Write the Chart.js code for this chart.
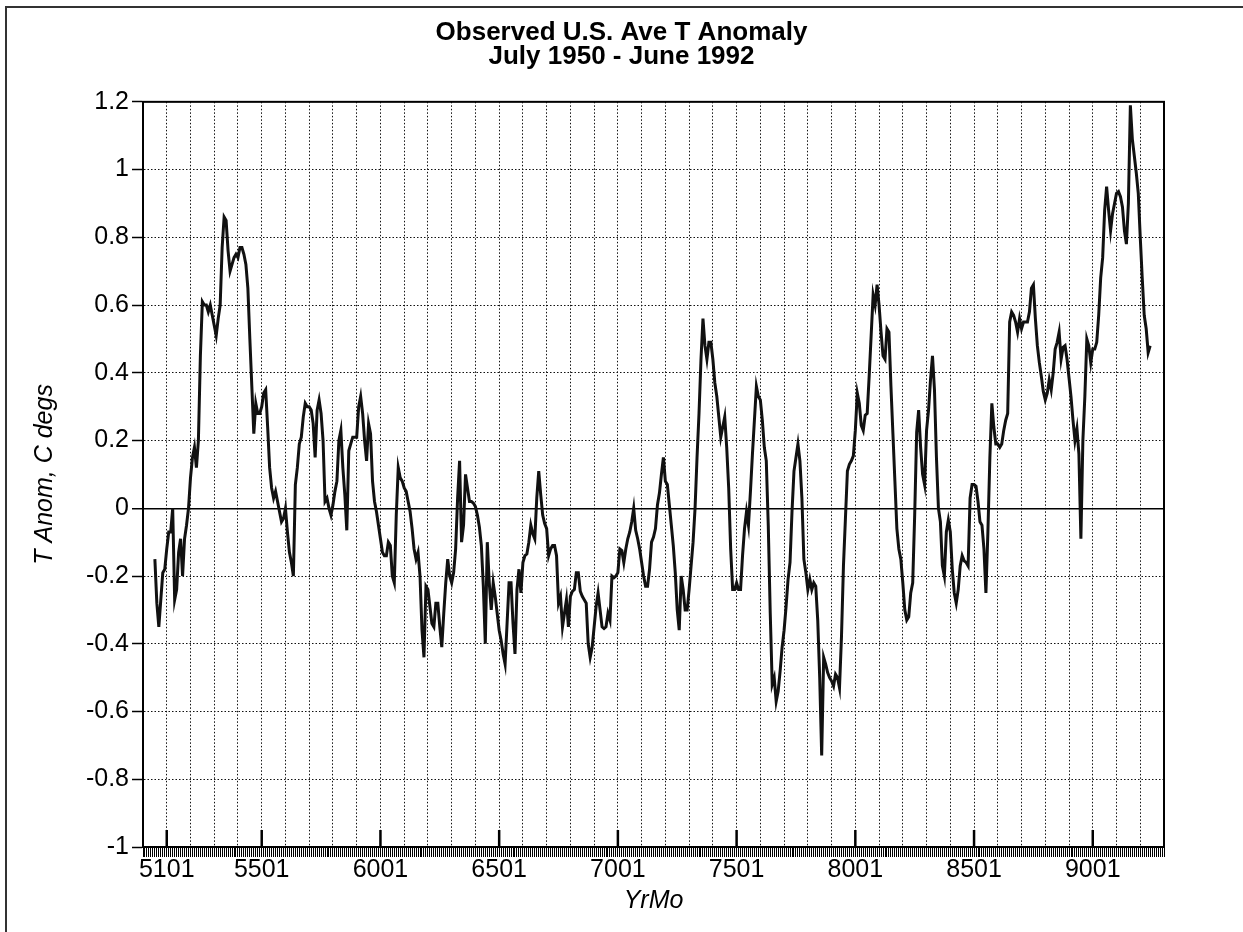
<!DOCTYPE html>
<html>
<head>
<meta charset="utf-8">
<title>Observed U.S. Ave T Anomaly</title>
<script src="https://cdn.jsdelivr.net/npm/chart.js@4.4.1/dist/chart.umd.min.js"></script>
<style>
  html, body { margin: 0; padding: 0; background: #fff; }
  #wrap { position: relative; width: 1243px; height: 932px; overflow: hidden; }
  #frame { position: absolute; left: 5px; top: 6px; width: 1300px; height: 1000px;
           border-top: 2px solid #333; border-left: 2px solid #333; pointer-events: none; }
</style>
</head>
<body>
<div id="wrap">
  <canvas id="chart" width="1243" height="932"></canvas>
  <div id="frame"></div>
</div>
<script>
// monthly anomaly (C), July 1950 .. June 1992
const anom50s = [
  -0.15, -0.28, -0.35, -0.27, -0.19, -0.18, -0.12, -0.07, -0.07, 0.0,
  -0.27, -0.24, -0.13, -0.09, -0.2, -0.09, -0.05, 0.0, 0.09, 0.15,
  0.18, 0.12, 0.2, 0.45, 0.61, 0.6, 0.6, 0.58, 0.6, 0.57,
  0.54, 0.51, 0.56, 0.6, 0.77, 0.86, 0.85, 0.76, 0.70, 0.72,
  0.74, 0.75, 0.74, 0.77, 0.77, 0.75, 0.72, 0.65, 0.50, 0.36,
  0.22, 0.31, 0.28, 0.28, 0.30, 0.34, 0.35, 0.24, 0.12, 0.06,
  0.03, 0.05, 0.02, -0.01, -0.04, -0.03, 0.0, -0.07, -0.13, -0.16,
  -0.2, 0.07, 0.12, 0.19, 0.21, 0.27, 0.31, 0.30, 0.30, 0.29,
  0.25, 0.15, 0.29, 0.32, 0.28, 0.2, 0.02, 0.03, 0.0, -0.02,
  0.01, 0.05, 0.08, 0.2, 0.23, 0.12, 0.04, -0.065, 0.17, 0.19,
  0.21, 0.21, 0.21, 0.30, 0.33, 0.28, 0.20, 0.14, 0.25, 0.22,
  0.08, 0.02, -0.01, -0.05
];
const anom60s = [
  -0.09, -0.13, -0.14, -0.14, -0.1, -0.11,
  -0.2, -0.22, -0.02, 0.12, 0.09, 0.08, 0.06, 0.05, 0.02, -0.01,
  -0.06, -0.12, -0.15, -0.13, -0.2, -0.36, -0.44, -0.23, -0.24, -0.29,
  -0.34, -0.35, -0.28, -0.28, -0.35, -0.41, -0.31, -0.22, -0.15, -0.2,
  -0.22, -0.19, -0.12, 0.03, 0.14, -0.1, -0.05, 0.1, 0.06, 0.02,
  0.02, 0.015, 0.005, -0.02, -0.055, -0.11, -0.23, -0.40, -0.10, -0.22,
  -0.3, -0.22, -0.26, -0.31, -0.36, -0.39, -0.43, -0.46, -0.34, -0.22,
  -0.22, -0.34, -0.43, -0.24, -0.18, -0.25, -0.16, -0.14, -0.135, -0.1,
  -0.05, -0.075, -0.09, 0.03, 0.11, 0.04, -0.02, -0.045, -0.06, -0.14,
  -0.12, -0.11, -0.11, -0.14, -0.28, -0.26, -0.35, -0.31, -0.27, -0.35,
  -0.26, -0.245, -0.24, -0.19, -0.19, -0.245, -0.26, -0.27, -0.28, -0.40,
  -0.44, -0.41, -0.35, -0.29, -0.25, -0.30, -0.35, -0.355, -0.35, -0.31,
  -0.33, -0.2, -0.205, -0.2
];
const anom70s = [
  -0.19, -0.12, -0.125, -0.16, -0.12, -0.09,
  -0.07, -0.04, 0.0, -0.065, -0.09, -0.12, -0.16, -0.2, -0.23, -0.23,
  -0.18, -0.1, -0.085, -0.06, 0.01, 0.045, 0.1, 0.15, 0.08, 0.07,
  0.01, -0.05, -0.11, -0.19, -0.3, -0.36, -0.2, -0.24, -0.3, -0.3,
  -0.24, -0.17, -0.1, 0.0, 0.15, 0.28, 0.44, 0.56, 0.48, 0.44,
  0.49, 0.49, 0.44, 0.37, 0.33, 0.27, 0.21, 0.24, 0.27, 0.18,
  0.06, -0.12, -0.24, -0.24, -0.22, -0.24, -0.24, -0.14, -0.06, -0.01,
  -0.05, 0.05, 0.16, 0.26, 0.36, 0.33, 0.32, 0.26, 0.18, 0.14,
  -0.05, -0.31, -0.52, -0.5, -0.57, -0.54, -0.48, -0.41, -0.36, -0.29,
  -0.21, -0.16, -0.01, 0.11, 0.15, 0.19, 0.14, 0.03, -0.15, -0.19,
  -0.24, -0.21, -0.24, -0.22, -0.23, -0.33, -0.5, -0.73, -0.44, -0.46,
  -0.485, -0.5, -0.51, -0.525, -0.49, -0.5, -0.53, -0.38, -0.17, -0.03,
  0.11, 0.13, 0.14, 0.155
];
const anom80s = [
  0.23, 0.34, 0.31, 0.245, 0.23, 0.275,
  0.28, 0.39, 0.51, 0.63, 0.6, 0.66, 0.6, 0.52, 0.45, 0.44,
  0.53, 0.52, 0.36, 0.22, 0.08, -0.06, -0.12, -0.15, -0.22, -0.3,
  -0.33, -0.32, -0.25, -0.22, -0.02, 0.225, 0.29, 0.18, 0.1, 0.07,
  0.23, 0.29, 0.38, 0.45, 0.35, 0.15, 0.0, -0.04, -0.17, -0.2,
  -0.07, -0.035, -0.07, -0.18, -0.25, -0.28, -0.24, -0.17, -0.14, -0.155,
  -0.16, -0.17, 0.03, 0.07, 0.07, 0.065, 0.02, -0.04, -0.05, -0.12,
  -0.25, -0.07, 0.15, 0.31, 0.24, 0.19, 0.19, 0.18, 0.19, 0.23,
  0.26, 0.28, 0.55, 0.58, 0.57, 0.55, 0.52, 0.56, 0.53, 0.55,
  0.55, 0.55, 0.58, 0.65, 0.66, 0.56, 0.48, 0.43, 0.39, 0.345,
  0.32, 0.34, 0.38, 0.35, 0.4, 0.47, 0.49, 0.52, 0.44, 0.475,
  0.48, 0.44, 0.385, 0.33, 0.26, 0.2, 0.235, 0.16, -0.09, 0.2,
  0.33, 0.5, 0.48, 0.43
];
const anom90s = [
  0.47, 0.47, 0.49, 0.57, 0.68, 0.74,
  0.88, 0.95, 0.88, 0.82, 0.87, 0.9, 0.93, 0.935, 0.92, 0.89,
  0.82, 0.78, 0.9, 1.19, 1.09, 1.04, 0.99, 0.93, 0.8, 0.68,
  0.57, 0.53, 0.46, 0.48
];

const tickLabels = ['5101', '5501', '6001', '6501', '7001', '7501', '8001', '8501', '9001'];
const yTicks = { min: -1, max: 1.2, step: 0.2 };
const axisStart = '5001';   // left edge of x axis
const axisEnd = '9301';     // right edge of x axis
const firstMonth = '5007';  // July 1950

const FONT = "'Liberation Sans', Arial, Helvetica, sans-serif";
const DOTS = [1.5, 2];

// month index counted from Jan 1950
function monthIndex(yrmo) {
  return (parseInt(yrmo.slice(0, 2), 10) - 50) * 12 + parseInt(yrmo.slice(2), 10) - 1;
}

const anomaly = anom50s.concat(anom60s, anom70s, anom80s, anom90s);
const start = monthIndex(firstMonth);
const points = anomaly.map((v, i) => ({ x: start + i, y: v }));

const labelAt = {};
tickLabels.forEach(t => { labelAt[monthIndex(t)] = t; });

// plot frame plus the taller marks at the labelled months
const plotFrame = {
  id: 'plotFrame',
  afterDraw(chart) {
    const { ctx, chartArea: a, scales: { x } } = chart;
    ctx.save();
    ctx.strokeStyle = '#000';
    ctx.lineWidth = 2;
    ctx.strokeRect(a.left, a.top, a.right - a.left, a.bottom - a.top);
    ctx.lineWidth = 2.5;
    tickLabels.forEach(t => {
      const px = x.getPixelForValue(monthIndex(t));
      ctx.beginPath();
      ctx.moveTo(px, a.bottom);
      ctx.lineTo(px, a.bottom - 17);
      ctx.stroke();
    });
    ctx.restore();
  }
};

const isZero = c => c.tick && Math.abs(c.tick.value) < 1e-9;

new Chart(document.getElementById('chart'), {
  type: 'line',
  data: {
    datasets: [{
      data: points,
      borderColor: '#111',
      borderWidth: 3,
      pointRadius: 0,
      tension: 0,
      fill: false
    }]
  },
  options: {
    responsive: false,
    animation: false,
    devicePixelRatio: 1,
    layout: { padding: 0 },
    plugins: {
      legend: { display: false },
      tooltip: { enabled: false },
      title: {
        display: true,
        text: ['Observed U.S. Ave T Anomaly', 'July 1950 - June 1992'],
        color: '#000',
        font: { family: FONT, size: 26, weight: 'bold', lineHeight: 0.92 },
        padding: { top: 21, bottom: 33 }
      }
    },
    scales: {
      x: {
        type: 'linear',
        min: monthIndex(axisStart),
        max: monthIndex(axisEnd),
        afterFit: s => { s.height = 85; },
        ticks: {
          stepSize: 1,
          autoSkip: false,
          maxRotation: 0,
          minRotation: 0,
          padding: -2,
          color: '#000',
          font: { family: FONT, size: 25 },
          callback: v => labelAt[Math.round(v)] || ''
        },
        grid: {
          color: c => (c.tick && Math.round(c.tick.value) % 12 === 0) ? '#111' : 'rgba(0,0,0,0)',
          lineWidth: 1,
          tickColor: '#000',
          tickLength: 10,
          tickWidth: 1
        },
        border: { display: true, color: '#000', width: 2, dash: DOTS },
        title: {
          display: true,
          text: 'YrMo',
          color: '#000',
          font: { family: FONT, size: 25, style: 'italic' },
          padding: { top: 0, bottom: 16 }
        }
      },
      y: {
        min: yTicks.min,
        max: yTicks.max,
        afterFit: s => { s.width = 143; },
        ticks: {
          stepSize: yTicks.step,
          padding: 3,
          color: '#000',
          font: { family: FONT, size: 25 },
          callback: v => String(+v.toFixed(1))
        },
        grid: {
          color: c => isZero(c) ? '#000' : '#111',
          lineWidth: c => isZero(c) ? 1.5 : 1,
          tickColor: '#000',
          tickLength: 11,
          tickWidth: 1.5
        },
        border: { display: true, color: '#000', width: 2, dash: c => isZero(c) ? [] : DOTS },
        title: {
          display: true,
          text: 'T Anom, C degs',
          color: '#000',
          font: { family: FONT, size: 25, style: 'italic' },
          padding: { top: 30, bottom: 0 }
        }
      },
      // empty right-hand axis: keeps the margin so the title centres on the page
      yRight: {
        position: 'right',
        min: yTicks.min,
        max: yTicks.max,
        afterFit: s => { s.width = 79; },
        ticks: { display: false },
        grid: { display: false, drawTicks: false },
        border: { display: false }
      }
    }
  },
  plugins: [plotFrame]
});
</script>
</body>
</html>
